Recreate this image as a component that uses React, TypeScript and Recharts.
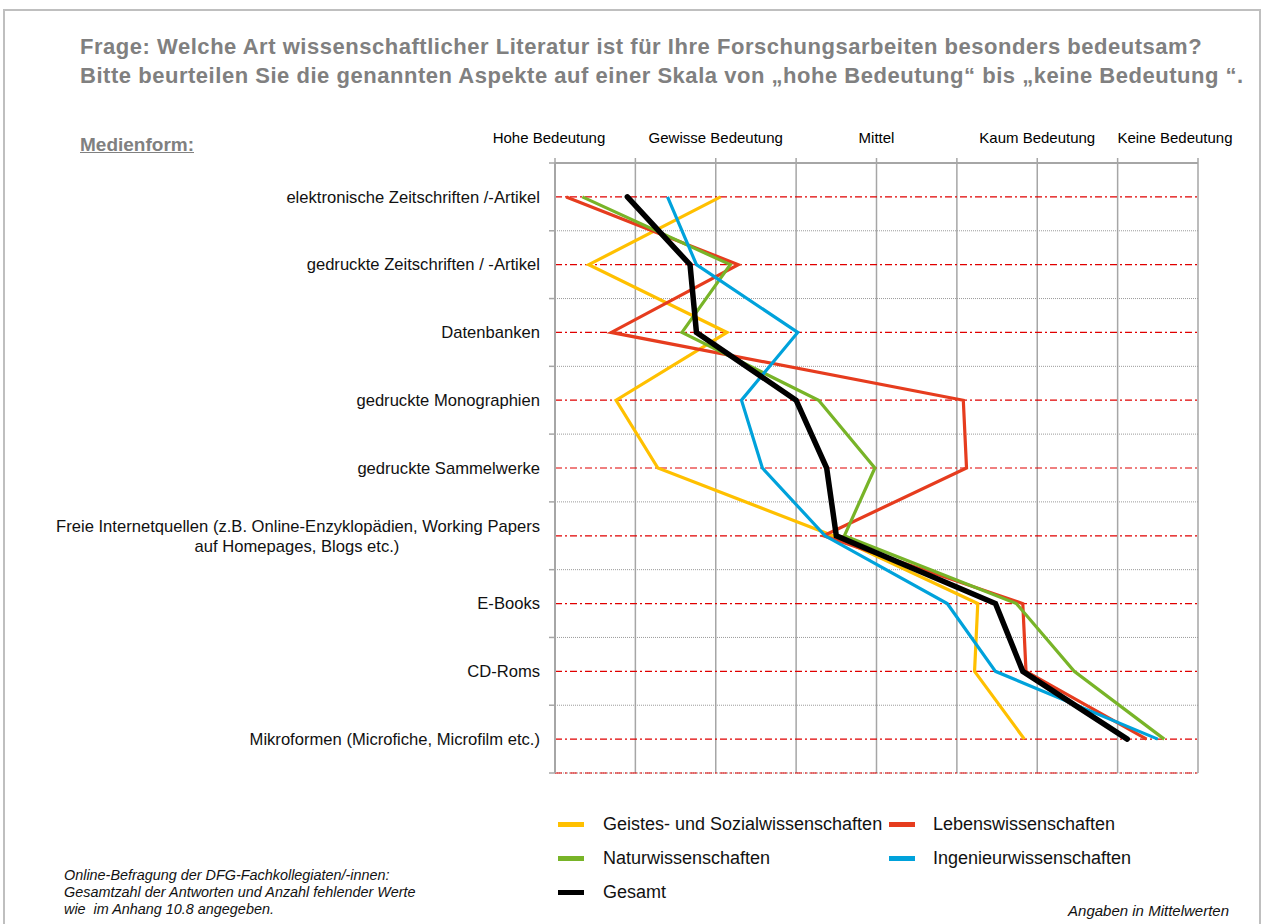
import { CartesianGrid, Line, LineChart, XAxis, YAxis } from "recharts";

const categories = [
  "elektronische Zeitschriften /-Artikel",
  "gedruckte Zeitschriften / -Artikel",
  "Datenbanken",
  "gedruckte Monographien",
  "gedruckte Sammelwerke",
  "Freie Internetquellen (z.B. Online-Enzyklopädien, Working Papers\nauf Homepages, Blogs etc.)",
  "E-Books",
  "CD-Roms",
  "Mikroformen (Microfiche, Microfilm etc.)",
];

const geistes = [2.03, 1.21, 2.07, 1.38, 1.64, 2.73, 3.63, 3.61, 3.92];
const lebens = [1.07, 2.14, 1.35, 3.54, 3.56, 2.67, 3.91, 3.93, 4.68];
const natur = [1.17, 2.09, 1.79, 2.64, 2.99, 2.8, 3.87, 4.23, 4.79];
const ingenieur = [1.7, 1.88, 2.51, 2.16, 2.29, 2.68, 3.44, 3.74, 4.75];
const gesamt = [1.45, 1.84, 1.88, 2.5, 2.69, 2.75, 3.74, 3.91, 4.56];

const scaleTicks = [1, 1.5, 2, 2.5, 3, 3.5, 4, 4.5, 5];
const scaleLabels: Record<number, string> = {
  1: "Hohe Bedeutung",
  2: "Gewisse Bedeutung",
  3: "Mittel",
  4: "Kaum Bedeutung",
  5: "Keine Bedeutung",
};

const series = [
  { key: "geistes", name: "Geistes- und Sozialwissenschaften", color: "#FFC000", width: 3.2 },
  { key: "lebens", name: "Lebenswissenschaften", color: "#E63C1E", width: 3.2 },
  { key: "natur", name: "Naturwissenschaften", color: "#78B428", width: 3.2 },
  { key: "ingenieur", name: "Ingenieurwissenschaften", color: "#00A2DB", width: 3.2 },
  { key: "gesamt", name: "Gesamt", color: "#000000", width: 5.5 },
];

const rows = categories.map((name, i) => ({
  name,
  geistes: geistes[i],
  lebens: lebens[i],
  natur: natur[i],
  ingenieur: ingenieur[i],
  gesamt: gesamt[i],
}));

const FONT = "'Liberation Sans', Arial, Helvetica, sans-serif";
const GRID = "#A6A6A6";
const PLOT_LEFT = 555;
const PLOT_TOP = 163;
const PLOT_HEIGHT = 610;
const BAND = PLOT_HEIGHT / categories.length;

// label nudges so the end labels stay inside the frame
const labelShift: Record<number, number> = { 1: -6, 5: -23 };

function ScaleTick(props: any) {
  const { x, payload } = props;
  const label = scaleLabels[payload.value];
  if (!label) return null;
  return (
    <text
      x={x + (labelShift[payload.value] ?? 0)}
      y={138}
      dy="0.35em"
      textAnchor="middle"
      fontSize={15}
      fontFamily={FONT}
      fill="#000"
    >
      {label}
    </text>
  );
}

function CategoryTick(props: any) {
  const { y, payload, index } = props;
  const lines = String(payload.value).split("\n");
  const lineH = 20;
  const top = y - ((lines.length - 1) * lineH) / 2;
  return (
    <g>
      <line x1={PLOT_LEFT - 6} x2={PLOT_LEFT} y1={y - BAND / 2} y2={y - BAND / 2} stroke={GRID} strokeWidth={1.5} />
      {index === categories.length - 1 && (
        <line x1={PLOT_LEFT - 6} x2={PLOT_LEFT} y1={y + BAND / 2} y2={y + BAND / 2} stroke={GRID} strokeWidth={1.5} />
      )}
      {lines.map((line, i) => (
        <text
          key={i}
          x={i === 0 ? 540 : 297}
          y={top + i * lineH}
          dy="0.35em"
          textAnchor={i === 0 ? "end" : "middle"}
          fontSize={16.6}
          fontFamily={FONT}
          fill="#111"
        >
          {line}
        </text>
      ))}
    </g>
  );
}

export default function App() {
  return (
    <div
      style={{
        position: "absolute",
        left: 0,
        top: 0,
        width: 1262,
        height: 924,
        overflow: "hidden",
        background: "#fff",
        fontFamily: FONT,
      }}
    >
      <div
        style={{
          position: "absolute",
          left: 3,
          top: 9,
          width: 1254,
          height: 940,
          border: "2px solid #BFBFBF",
        }}
      />
      <div
        style={{
          position: "absolute",
          left: 80,
          top: 32,
          fontSize: 22,
          letterSpacing: 0.53,
          lineHeight: "29px",
          fontWeight: "bold",
          color: "#808080",
          whiteSpace: "nowrap",
        }}
      >
        Frage: Welche Art wissenschaftlicher Literatur ist für Ihre Forschungsarbeiten besonders bedeutsam?
        <br />
        Bitte beurteilen Sie die genannten Aspekte auf einer Skala von „hohe Bedeutung“ bis „keine Bedeutung “.
      </div>
      <div
        style={{
          position: "absolute",
          left: 80,
          top: 133,
          fontSize: 19,
          lineHeight: "24px",
          fontWeight: "bold",
          color: "#808080",
          textDecoration: "underline",
        }}
      >
        Medienform:
      </div>

      <div style={{ position: "absolute", left: 0, top: 0 }}>
        <LineChart
          layout="vertical"
          width={1262}
          height={800}
          data={rows}
          margin={{ top: PLOT_TOP - 40, right: 64, bottom: 800 - PLOT_TOP - PLOT_HEIGHT, left: 0 }}
        >
          <CartesianGrid horizontal={false} stroke={GRID} strokeWidth={1.5} />
          <CartesianGrid
            vertical={false}
            stroke="#9A9A9A"
            strokeDasharray="1 1"
            horizontalCoordinatesGenerator={({ offset }: any) =>
              Array.from({ length: categories.length + 1 }, (_, i) => offset.top + i * (offset.height / categories.length))
            }
          />
          <CartesianGrid vertical={false} stroke="#E00000" strokeWidth={1.2} strokeDasharray="7 3 2 3" />
          <XAxis
            type="number"
            domain={[1, 5]}
            ticks={scaleTicks}
            interval={0}
            orientation="top"
            height={40}
            axisLine={{ stroke: GRID, strokeWidth: 2 }}
            tickLine={{ stroke: GRID, strokeWidth: 1.5 }}
            tickSize={5}
            tick={<ScaleTick />}
          />
          <YAxis
            type="category"
            dataKey="name"
            scale="band"
            width={PLOT_LEFT}
            interval={0}
            axisLine={{ stroke: GRID, strokeWidth: 2 }}
            tickLine={false}
            tick={<CategoryTick />}
          />
          {series.map((s) => (
            <Line
              key={s.key}
              type="linear"
              dataKey={s.key}
              name={s.name}
              stroke={s.color}
              strokeWidth={s.width}
              strokeLinecap={s.key === "gesamt" ? "round" : "butt"}
              dot={false}
              activeDot={false}
              isAnimationActive={false}
            />
          ))}
        </LineChart>
      </div>

      {series.map((s, i) => (
        <div
          key={s.key}
          style={{
            position: "absolute",
            left: i % 2 === 0 ? 558 : 889,
            top: 824 + Math.floor(i / 2) * 34 - 12,
            height: 24,
            display: "flex",
            alignItems: "center",
            fontSize: 18,
            color: "#111",
            whiteSpace: "nowrap",
          }}
        >
          <span style={{ display: "inline-block", width: 26, height: 5, background: s.color, marginRight: i % 2 === 0 ? 19 : 18 }} />
          {s.name}
        </div>
      ))}

      <div
        style={{
          position: "absolute",
          left: 64,
          top: 867,
          fontSize: 14.4,
          lineHeight: "17px",
          fontStyle: "italic",
          color: "#111",
          whiteSpace: "nowrap",
        }}
      >
        Online-Befragung der DFG-Fachkollegiaten/-innen:
        <br />
        Gesamtzahl der Antworten und Anzahl fehlender Werte
        <br />
        wie&nbsp; im Anhang 10.8 angegeben.
      </div>
      <div
        style={{
          position: "absolute",
          right: 1262 - 1229,
          top: 902,
          fontSize: 15,
          lineHeight: "17px",
          fontStyle: "italic",
          color: "#111",
          whiteSpace: "nowrap",
        }}
      >
        Angaben in Mittelwerten
      </div>
    </div>
  );
}
